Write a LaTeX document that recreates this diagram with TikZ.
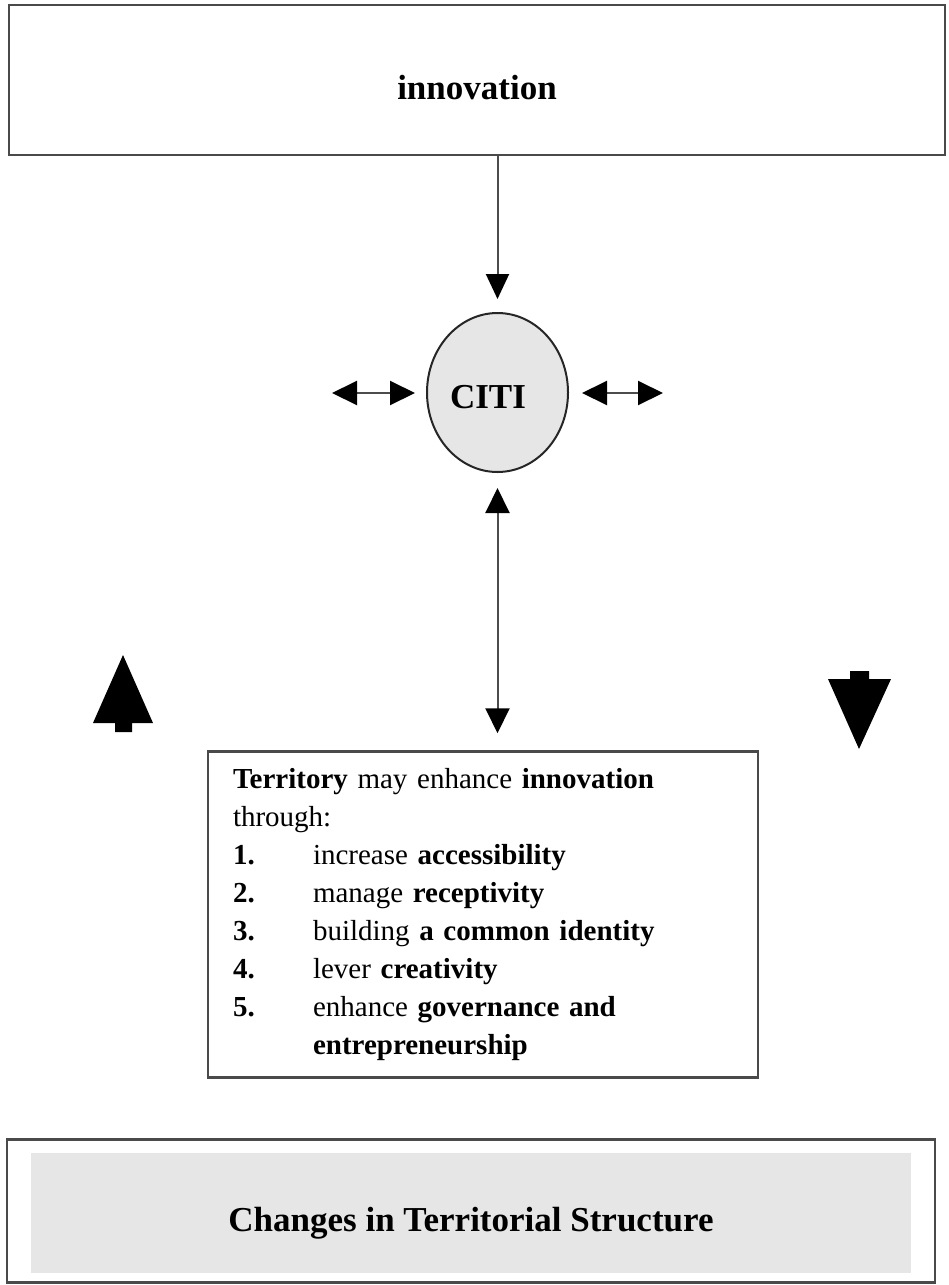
\documentclass[tikz,border=0pt]{standalone}
\usepackage{fontspec}
\setmainfont{Liberation Serif}
\usetikzlibrary{arrows.meta,shapes.geometric}

\definecolor{edge}{HTML}{4A4A4A}
\definecolor{shade}{HTML}{E6E6E6}

\tikzset{
  frame/.style={draw=edge, line width=2.5pt, rectangle, inner sep=0pt},
  title/.style={font=\bfseries\fontsize{35}{40}\selectfont, inner sep=0pt},
  link/.style={draw=black!70, line width=2pt,
    -{Triangle[length=25pt,width=23pt,fill=black,color=black]}},
  dbllink/.style={draw=black!70, line width=2pt,
    {Triangle[length=25pt,width=24pt,fill=black,color=black]}-{Triangle[length=25pt,width=24pt,fill=black,color=black]}},
  marker/.style={fill=black, draw=none}
}

\begin{document}
\begin{tikzpicture}[x=1pt, y=-1pt]
  \useasboundingbox (0,0) rectangle (949,1285);

  % top box
  \node[frame, minimum width=936pt, minimum height=150pt] (top) at (477,80) {};
  \node[title] (toplabel) at (477,88) {innovation};

  % central element
  \node[ellipse, draw=black!85, line width=2pt, fill=shade,
        minimum width=141pt, minimum height=159pt, inner sep=0pt] (citi) at (497.5,392.5) {};
  \node[title] (citilabel) at (488,397) {CITI};

  % side exchanges
  \coordinate (la) at (332,393);
  \coordinate (lb) at (415,393);
  \coordinate (ra) at (582,393);
  \coordinate (rb) at (663,393);
  \draw[dbllink] (la) -- (lb);
  \draw[dbllink] (ra) -- (rb);

  % territory box
  \node[frame, minimum width=550pt, minimum height=326pt,
        inner xsep=25pt, text width=500pt, align=left,
        font=\fontsize{29}{38}\selectfont] (terr) at (483,914.5) {%
    \textbf{Territory} may enhance \textbf{innovation}\\
    through:\\
    \makebox[80pt][l]{\textbf{1.}}increase \textbf{accessibility}\\
    \makebox[80pt][l]{\textbf{2.}}manage \textbf{receptivity}\\
    \makebox[80pt][l]{\textbf{3.}}building \textbf{a common identity}\\
    \makebox[80pt][l]{\textbf{4.}}lever \textbf{creativity}\\
    \makebox[80pt][l]{\textbf{5.}}enhance \textbf{governance and}\\
    \hspace*{80pt}\textbf{entrepreneurship}};

  % connectors
  \draw[link, shorten >=13pt] (top.south -| citi.north) -- (citi.north);
  \draw[dbllink, shorten <=15pt, shorten >=17pt] (citi.south) -- (citi.south |- terr.north);

  % rising / falling markers
  \fill[marker] (123,655) -- (153,723) -- (132,723) -- (132,732) -- (115,732)
    -- (115,723) -- (93,723) -- cycle;
  \fill[marker] (859,749) -- (891,679) -- (869,679) -- (869,671) -- (850,671)
    -- (850,679) -- (828,679) -- cycle;

  % bottom box
  \node[frame, minimum width=928pt, minimum height=143pt] (bottom) at (471,1211) {};
  \node[fill=shade, minimum width=880pt, minimum height=120pt, inner sep=0pt] (band) at (471,1212.5) {};
  \node[title] (bottomlabel) at (471,1223) {Changes in Territorial Structure};
\end{tikzpicture}
\end{document}
